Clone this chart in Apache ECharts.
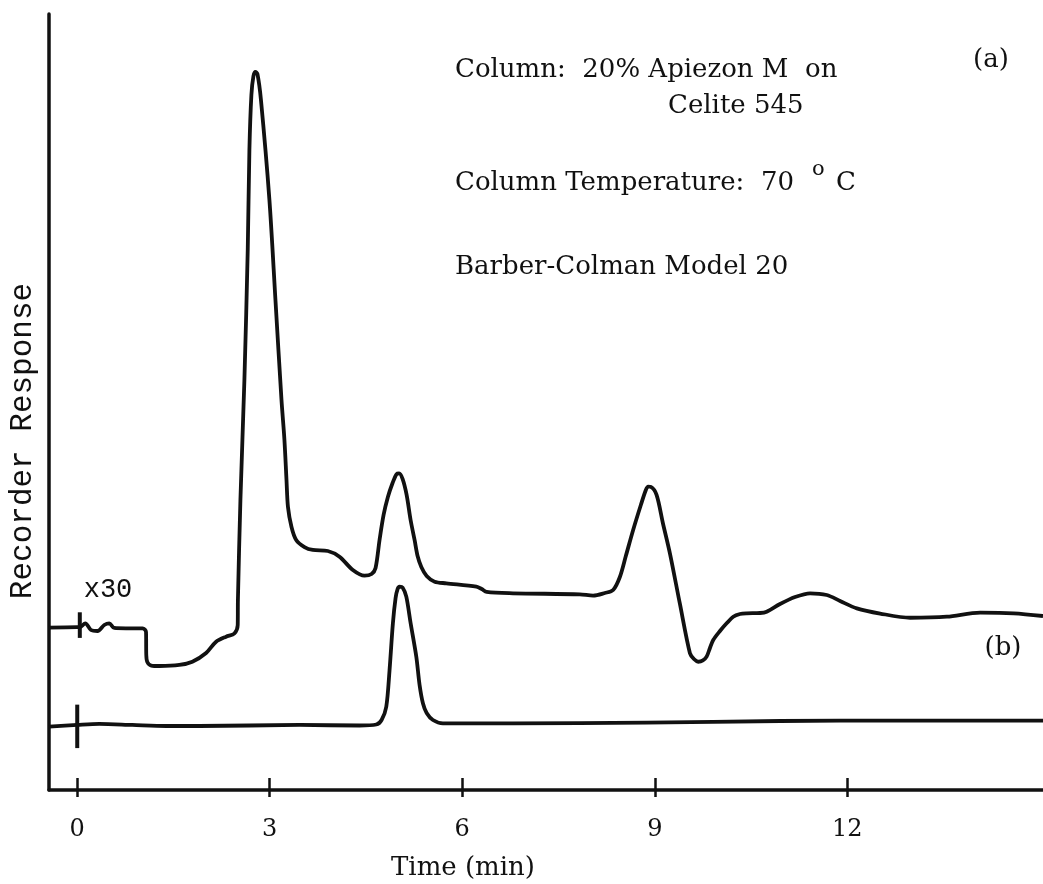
<!DOCTYPE html>
<html><head><meta charset="utf-8">
<script src="https://cdn.jsdelivr.net/npm/echarts@6/dist/echarts.min.js"></script>
<style>html,body{margin:0;padding:0;background:#fff}#c{width:1043px;height:884px}</style>
</head><body><div id="c"></div><script>
// x tick labels (min)
const tickValues = [0, 3, 6, 9, 12];
// trace (a): x30 attenuation, [time (min), response]
const traceA = [
 [-0.44,20.92],[0,21.0],[0.04,21.0],[0.125,21.48],[0.214,20.62],[0.317,20.49],[0.421,21.26],[0.499,21.48],
 [0.577,20.88],[0.76,20.84],[1.019,20.84],[1.072,20.36],[1.076,17.4],[1.092,16.49],[1.154,16.04],[1.279,15.98],
 [1.591,16.11],[1.794,16.53],[2.008,17.65],[2.164,19.11],[2.32,19.76],[2.449,20.17],[2.501,21.26],[2.504,24.48],
 [2.543,37.37],[2.605,52.84],[2.657,69.59],[2.683,82.47],[2.714,89.56],[2.746,92.01],[2.777,92.53],[2.808,92.27],
 [2.863,88.92],[2.995,76.03],[3.089,63.14],[3.183,50.26],[3.229,45.10],[3.261,39.95],[3.284,36.47],[3.339,33.89],
 [3.412,32.22],[3.541,31.31],[3.671,30.93],[3.905,30.80],[4.087,30.06],[4.295,28.35],[4.477,27.62],[4.587,27.84],
 [4.649,28.61],[4.711,32.22],[4.774,35.44],[4.841,37.76],[4.914,39.56],[4.977,40.72],[5.016,40.79],[5.07,40.08],
 [5.133,38.02],[5.195,34.79],[5.257,32.22],[5.304,30.15],[5.362,28.74],[5.445,27.58],[5.569,26.84],[5.752,26.64],
 [6.22,26.20],[6.303,25.90],[6.381,25.52],[6.791,25.35],[7.832,25.22],[8.039,25.06],[8.222,25.39],[8.351,25.77],
 [8.456,27.45],[8.549,30.15],[8.663,33.51],[8.783,36.73],[8.861,38.66],[8.897,39.09],[8.939,39.05],[9.028,38.02],
 [9.126,34.41],[9.236,30.50],[9.392,23.97],[9.548,17.62],[9.61,16.88],[9.677,16.53],[9.75,16.69],[9.808,17.18],
 [9.86,18.30],[9.911,19.33],[10.016,20.49],[10.12,21.48],[10.223,22.33],[10.328,22.68],[10.432,22.77],[10.64,22.81],
 [10.744,22.98],[10.952,23.97],[11.186,24.87],[11.42,25.35],[11.68,25.13],[11.888,24.36],[12.148,23.41],[12.512,22.74],
 [12.98,22.20],[13.552,22.33],[14.071,22.85],[14.592,22.77],[15.05,22.42]
];
// trace (b)
const traceB = [
 [-0.44,8.16],[0,8.38],[0.343,8.51],[0.858,8.38],[1.388,8.25],[1.903,8.25],[3.463,8.38],[4.399,8.31],
 [4.66,8.44],[4.743,9.02],[4.816,10.73],[4.867,15.46],[4.919,21.48],[4.961,24.74],[4.992,25.90],[5.023,26.20],
 [5.07,26.10],[5.128,24.91],[5.195,21.52],[5.284,17.18],[5.335,13.53],[5.387,11.17],[5.445,9.92],[5.543,9.02],
 [5.699,8.59],[6.786,8.59],[8.872,8.67],[10.952,8.89],[12.824,8.95],[15.05,8.95]
];
// injection marks at t = 0
const injectA = [[0.04,19.6],[0.04,22.9]];
const injectB = [[0,5.4],[0,11.0]];

const ink = '#111';
const serif = 'DejaVu Serif';
const mono = '"Courier New", Courier, "Nimbus Mono PS", FreeMono, "Liberation Mono", monospace';
function txt(text, x, y, size, family, align, extra) {
  return Object.assign({
    type: 'text', x: x, y: y, silent: true,
    style: { text: text, fontSize: size, fontFamily: family, fill: ink, textAlign: align || 'left', textVerticalAlign: 'middle' }
  }, extra || {});
}

const chart = echarts.init(document.getElementById('c'), null, {renderer: 'canvas'});
chart.setOption({
  animation: false,
  backgroundColor: '#fff',
  grid: { left: 49, right: 0, top: 14, bottom: 94, containLabel: false },
  xAxis: [{
    type: 'value', min: -0.44, max: 15.05, position: 'bottom',
    axisLine: { show: true, onZero: false, lineStyle: { color: ink, width: 3.5 } },
    axisTick: { show: true, inside: true, length: 12, customValues: tickValues, lineStyle: { color: ink, width: 2.5 } },
    axisLabel: { show: true, customValues: tickValues, margin: 28, fontFamily: serif, fontSize: 24, color: ink },
    splitLine: { show: false }
  }, {
    type: 'value', min: -0.44, max: 15.05, position: 'bottom',
    axisLine: { show: false },
    axisTick: { show: true, inside: false, length: 7, customValues: tickValues, lineStyle: { color: ink, width: 2.5 } },
    axisLabel: { show: false },
    splitLine: { show: false }
  }],
  yAxis: {
    type: 'value', min: 0, max: 100,
    axisLine: { show: true, onZero: false, lineStyle: { color: ink, width: 3.5 } },
    axisTick: { show: false }, axisLabel: { show: false }, splitLine: { show: false }
  },
  series: [
    { type: 'line', data: traceA, showSymbol: false, smooth: 0.3, lineStyle: { color: ink, width: 3.8, join: 'round' }, silent: true },
    { type: 'line', data: traceB, showSymbol: false, smooth: 0.3, lineStyle: { color: ink, width: 3.8, join: 'round' }, silent: true },
    { type: 'line', data: injectA, showSymbol: false, lineStyle: { color: ink, width: 4 }, silent: true },
    { type: 'line', data: injectB, showSymbol: false, lineStyle: { color: ink, width: 4 }, silent: true }
  ],
  graphic: [
    txt('(a)', 991, 60, 26, serif, 'center'),
    txt('Column:  20% Apiezon M  on', 455, 70, 26, serif),
    txt('Celite 545', 668, 106, 26, serif),
    txt('Column Temperature:  70', 455, 183, 26, serif),
    txt('o', 812, 170, 21, serif),
    txt('C', 836, 183, 26, serif),
    txt('Barber-Colman Model 20', 455, 267, 26, serif),
    txt('x30', 108, 590, 27, mono, 'center'),
    txt('(b)', 1003, 648, 26, serif, 'center'),
    txt('Time (min)', 463, 868, 26, serif, 'center'),
    txt('Recorder Response', 23, 441, 31, mono, 'center', { rotation: Math.PI / 2 })
  ]
});
</script></body></html>
